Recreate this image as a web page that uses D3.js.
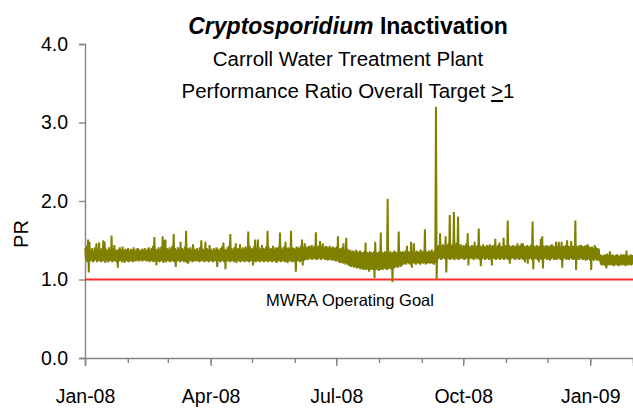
<!DOCTYPE html>
<html>
<head>
<meta charset="utf-8">
<script src="https://cdn.jsdelivr.net/npm/d3@7"></script>
<style>
  html, body { margin: 0; padding: 0; background: #fff; }
  svg { display: block; font-family: "Liberation Sans", Arial, sans-serif; }
</style>
</head>
<body>
<div id="chart"></div>
<script>
// daily maximum / minimum PR, one entry per day from 1-Jan-2008
const startDate = "2008-01-01";
const endDate = "2009-02-01";

const dailyHigh = [
  1.40, 1.43, 1.51, 1.48, 1.38, 1.40, 1.37, 1.41, 1.46, 1.39,
  1.47, 1.38, 1.40, 1.50, 1.48, 1.39, 1.37, 1.41, 1.38, 1.56,
  1.40, 1.44, 1.38, 1.37, 1.39, 1.41, 1.38, 1.42, 1.37, 1.39,
  1.38, 1.40, 1.37, 1.39, 1.38, 1.41, 1.37, 1.39, 1.40, 1.38,
  1.37, 1.39, 1.38, 1.40, 1.37, 1.39, 1.41, 1.38, 1.40, 1.43,
  1.54, 1.39, 1.38, 1.41, 1.39, 1.42, 1.55, 1.50, 1.51, 1.40,
  1.38, 1.41, 1.39, 1.43, 1.58, 1.40, 1.38, 1.41, 1.39, 1.48,
  1.40, 1.38, 1.42, 1.62, 1.40, 1.39, 1.41, 1.38, 1.45, 1.39,
  1.38, 1.40, 1.37, 1.41, 1.50, 1.39, 1.38, 1.48, 1.40, 1.38,
  1.44, 1.39, 1.37, 1.40, 1.38, 1.41, 1.39, 1.37, 1.40, 1.42,
  1.47, 1.39, 1.38, 1.41, 1.43, 1.58, 1.40, 1.38, 1.41, 1.46,
  1.39, 1.40, 1.45, 1.38, 1.41, 1.39, 1.42, 1.40, 1.61, 1.43,
  1.40, 1.39, 1.42, 1.51, 1.40, 1.51, 1.41, 1.39, 1.44, 1.40,
  1.39, 1.42, 1.62, 1.41, 1.39, 1.40, 1.43, 1.39, 1.41, 1.40,
  1.42, 1.60, 1.41, 1.39, 1.42, 1.48, 1.40, 1.41, 1.39, 1.62,
  1.41, 1.40, 1.39, 1.42, 1.41, 1.40, 1.43, 1.51, 1.42, 1.46,
  1.42, 1.41, 1.43, 1.42, 1.44, 1.41, 1.43, 1.60, 1.42, 1.43,
  1.49, 1.42, 1.46, 1.41, 1.43, 1.42, 1.41, 1.43, 1.40, 1.42,
  1.41, 1.40, 1.42, 1.55, 1.40, 1.39, 1.41, 1.46, 1.38, 1.53,
  1.39, 1.37, 1.38, 1.36, 1.37, 1.35, 1.38, 1.36, 1.35, 1.37,
  1.35, 1.34, 1.36, 1.47, 1.35, 1.34, 1.36, 1.35, 1.34, 1.36,
  1.48, 1.35, 1.34, 1.36, 1.60, 1.35, 1.34, 1.36, 1.35, 2.03,
  1.34, 1.36, 1.34, 1.35, 1.37, 1.35, 1.34, 1.61, 1.36, 1.35,
  1.36, 1.35, 1.37, 1.43, 1.36, 1.35, 1.48, 1.36, 1.46, 1.35,
  1.37, 1.35, 1.36, 1.38, 1.35, 1.37, 1.64, 1.36, 1.35, 1.37,
  1.36, 1.38, 1.35, 1.37, 3.20, 1.43, 1.44, 1.59, 1.42, 1.45,
  1.43, 1.55, 1.44, 1.46, 1.82, 1.43, 1.45, 1.86, 1.44, 1.47,
  1.80, 1.43, 1.45, 1.42, 1.44, 1.43, 1.46, 1.59, 1.43, 1.42,
  1.44, 1.43, 1.48, 1.42, 1.44, 1.65, 1.43, 1.42, 1.45, 1.43,
  1.42, 1.44, 1.43, 1.45, 1.42, 1.44, 1.43, 1.52, 1.42, 1.44,
  1.47, 1.43, 1.42, 1.53, 1.44, 1.43, 1.75, 1.44, 1.42, 1.43,
  1.44, 1.42, 1.43, 1.46, 1.42, 1.44, 1.46, 1.46, 1.43, 1.42,
  1.44, 1.43, 1.42, 1.45, 1.74, 1.43, 1.42, 1.44, 1.42, 1.43,
  1.52, 1.55, 1.43, 1.42, 1.44, 1.43, 1.42, 1.44, 1.45, 1.43,
  1.42, 1.48, 1.43, 1.48, 1.42, 1.48, 1.43, 1.42, 1.44, 1.50,
  1.43, 1.42, 1.49, 1.43, 1.42, 1.75, 1.43, 1.42, 1.44, 1.44,
  1.43, 1.42, 1.43, 1.44, 1.45, 1.42, 1.41, 1.42, 1.40, 1.44,
  1.41, 1.40, 1.39, 1.32, 1.31, 1.30, 1.32, 1.31, 1.33, 1.31,
  1.36, 1.31, 1.32, 1.30, 1.31, 1.32, 1.31, 1.30, 1.32, 1.31,
  1.32, 1.31, 1.37, 1.31, 1.30, 1.32, 1.31
];

const dailyLow = [
  1.24, 1.22, 1.09, 1.23, 1.24, 1.22, 1.23, 1.25, 1.22, 1.24,
  1.23, 1.22, 1.24, 1.23, 1.21, 1.24, 1.22, 1.23, 1.24, 1.22,
  1.23, 1.24, 1.22, 1.15, 1.23, 1.24, 1.22, 1.23, 1.21, 1.24,
  1.23, 1.22, 1.24, 1.23, 1.22, 1.24, 1.23, 1.25, 1.23, 1.24,
  1.24, 1.23, 1.25, 1.24, 1.23, 1.24, 1.22, 1.24, 1.23, 1.22,
  1.23, 1.18, 1.24, 1.22, 1.23, 1.24, 1.21, 1.23, 1.22, 1.24,
  1.23, 1.22, 1.24, 1.23, 1.22, 1.16, 1.23, 1.24, 1.22, 1.23,
  1.24, 1.22, 1.23, 1.21, 1.20, 1.23, 1.24, 1.22, 1.23, 1.24,
  1.23, 1.24, 1.22, 1.23, 1.24, 1.23, 1.22, 1.24, 1.23, 1.22,
  1.24, 1.23, 1.22, 1.24, 1.23, 1.16, 1.24, 1.22, 1.23, 1.24,
  1.22, 1.13, 1.23, 1.24, 1.22, 1.23, 1.24, 1.22, 1.23, 1.21,
  1.24, 1.23, 1.22, 1.24, 1.23, 1.22, 1.24, 1.23, 1.22, 1.23,
  1.24, 1.18, 1.23, 1.22, 1.24, 1.23, 1.22, 1.24, 1.23, 1.22,
  1.24, 1.23, 1.22, 1.24, 1.23, 1.22, 1.24, 1.23, 1.21, 1.23,
  1.24, 1.22, 1.23, 1.24, 1.22, 1.23, 1.21, 1.23, 1.24, 1.22,
  1.23, 1.22, 1.10, 1.23, 1.24, 1.22, 1.23, 1.18, 1.24, 1.25,
  1.26, 1.25, 1.27, 1.26, 1.25, 1.27, 1.26, 1.25, 1.26, 1.27,
  1.25, 1.26, 1.27, 1.25, 1.26, 1.24, 1.25, 1.26, 1.24, 1.25,
  1.24, 1.23, 1.24, 1.22, 1.21, 1.22, 1.20, 1.21, 1.19, 1.20,
  1.18, 1.17, 1.16, 1.17, 1.15, 1.16, 1.14, 1.15, 1.14, 1.13,
  1.14, 1.12, 1.13, 1.12, 1.13, 1.10, 1.12, 1.13, 1.12, 1.02,
  1.12, 1.13, 1.11, 1.12, 1.13, 1.12, 1.14, 1.13, 1.12, 1.13,
  1.14, 1.13, 0.97, 1.14, 1.15, 1.16, 1.15, 1.17, 1.16, 1.18,
  1.19, 1.20, 1.19, 1.21, 1.20, 1.19, 1.15, 1.21, 1.20, 1.19,
  1.21, 1.20, 1.19, 1.21, 1.20, 1.21, 1.19, 1.20, 1.21, 1.20,
  1.21, 1.20, 1.19, 1.21, 1.00, 1.26, 1.27, 1.25, 1.26, 1.27,
  1.26, 1.09, 1.27, 1.26, 1.25, 1.27, 1.26, 1.25, 1.27, 1.26,
  1.25, 1.27, 1.26, 1.27, 1.25, 1.26, 1.27, 1.18, 1.26, 1.27,
  1.26, 1.25, 1.27, 1.26, 1.27, 1.25, 1.17, 1.26, 1.27, 1.25,
  1.26, 1.27, 1.25, 1.26, 1.18, 1.27, 1.26, 1.25, 1.27, 1.26,
  1.25, 1.27, 1.26, 1.25, 1.27, 1.26, 1.25, 1.20, 1.26, 1.27,
  1.26, 1.25, 1.27, 1.26, 1.25, 1.27, 1.26, 1.25, 1.22, 1.26,
  1.20, 1.26, 1.27, 1.25, 1.13, 1.26, 1.27, 1.25, 1.22, 1.26,
  1.25, 1.14, 1.26, 1.27, 1.25, 1.26, 1.24, 1.26, 1.27, 1.25,
  1.26, 1.25, 1.27, 1.26, 1.25, 1.15, 1.26, 1.27, 1.25, 1.26,
  1.25, 1.27, 1.26, 1.25, 1.26, 1.12, 1.26, 1.25, 1.27, 1.26,
  1.25, 1.26, 1.24, 1.25, 1.26, 1.24, 1.12, 1.25, 1.24, 1.26,
  1.24, 1.25, 1.23, 1.19, 1.18, 1.19, 1.17, 1.14, 1.18, 1.19,
  1.18, 1.19, 1.17, 1.18, 1.19, 1.18, 1.17, 1.19, 1.18, 1.19,
  1.18, 1.17, 1.19, 1.18, 1.19, 1.18, 1.19
];

const operatingGoal = 1.0;
const yTicks = [0, 1, 2, 3, 4];
const quarterTicks = ["2008-01-01", "2008-04-01", "2008-07-01", "2008-10-01", "2009-01-01"];

(function () {
  const width = 633, height = 409;
  const parse = d3.utcParse("%Y-%m-%d");
  const start = parse(startDate);

  const x = d3.scaleUtc().domain([start, parse(endDate)]).range([85, 633]);
  const y = d3.scaleLinear().domain([0, 4]).range([358, 44]);

  // each day contributes its high then its low, so the trace zig-zags like the hourly record
  let points = [];
  dailyHigh.forEach((hi, i) => {
    let day = d3.utcDay.offset(start, i);
    points.push({ date: d3.utcHour.offset(day, 6), value: hi });
    points.push({ date: d3.utcHour.offset(day, 18), value: dailyLow[i] });
  });

  const svg = d3.select("#chart").append("svg")
    .attr("width", width)
    .attr("height", height);

  // axes
  svg.append("g")
    .attr("transform", "translate(85,0)")
    .call(d3.axisLeft(y).tickValues(yTicks).tickFormat(d3.format(".1f")).tickSize(6).tickPadding(11));

  svg.append("g")
    .attr("transform", "translate(0,358)")
    .call(d3.axisBottom(x).ticks(d3.utcMonth.every(1)).tickSize(5).tickFormat(""))
    .call(g => g.select(".domain").remove());

  svg.append("g")
    .attr("transform", "translate(0,358)")
    .call(d3.axisBottom(x).tickValues(quarterTicks.map(parse)).tickSize(8).tickPadding(23)
      .tickFormat(d3.utcFormat("%b-%y")));

  svg.selectAll(".domain, .tick line").attr("stroke", "#858585").attr("stroke-width", 1.4);
  svg.selectAll(".tick text").attr("fill", "#000").attr("font-size", 19.5)
    .attr("font-family", "'Liberation Sans', Arial, sans-serif");

  // operating goal
  svg.append("line")
    .attr("x1", x(start)).attr("x2", x(parse(endDate)))
    .attr("y1", y(operatingGoal)).attr("y2", y(operatingGoal))
    .attr("stroke", "#ff2a2a")
    .attr("stroke-width", 2);

  svg.append("path")
    .datum(points)
    .attr("fill", "none")
    .attr("stroke", "#808000")
    .attr("stroke-width", 2)
    .attr("d", d3.line().x(d => x(d.date)).y(d => y(d.value)));

  svg.append("text")
    .attr("x", 350).attr("y", 306)
    .attr("text-anchor", "middle")
    .attr("font-size", 16.5)
    .text("MWRA Operating Goal");

  // titles
  const title = svg.append("text")
    .attr("x", 348).attr("y", 34)
    .attr("text-anchor", "middle")
    .attr("font-size", 23)
    .attr("font-weight", "bold");
  title.append("tspan").attr("font-style", "italic").text("Cryptosporidium");
  title.append("tspan").text(" Inactivation");

  svg.append("text")
    .attr("x", 348).attr("y", 66)
    .attr("text-anchor", "middle")
    .attr("font-size", 20.5)
    .text("Carroll Water Treatment Plant");

  const sub = svg.append("text")
    .attr("x", 348).attr("y", 98)
    .attr("text-anchor", "middle")
    .attr("font-size", 20.5);
  sub.append("tspan").text("Performance Ratio Overall Target ");
  sub.append("tspan").style("text-decoration", "underline").text(">");
  sub.append("tspan").text("1");

  svg.append("text")
    .attr("transform", "translate(28,234) rotate(-90)")
    .attr("text-anchor", "middle")
    .attr("font-size", 20)
    .text("PR");
})();
</script>
</body>
</html>
